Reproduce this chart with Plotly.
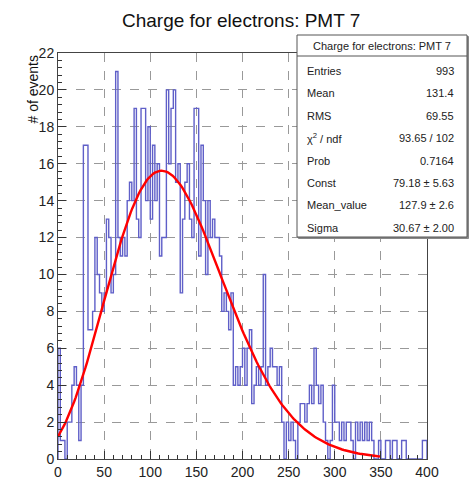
import math
import plotly.graph_objects as go

# ---------------- data ----------------
BIN_WIDTH = 2.5
X_MIN, X_MAX = 0, 400
counts = [
    6, 1, 1, 0, 2, 2, 4, 5, 4, 1,
    4, 17, 17, 7, 7, 8, 12, 10, 9, 8,
    9, 13, 12, 9, 10, 21, 12, 11, 12, 11,
    14, 15, 14, 19, 13, 12, 19, 19, 14, 18,
    13, 17, 14, 16, 11, 12, 12, 20, 16, 19,
    20, 15, 16, 9, 13, 15, 16, 13, 12, 19,
    19, 11, 17, 14, 10, 14, 12, 13, 12, 12,
    11, 8, 9, 8, 7, 9, 4, 5, 4, 5,
    6, 4, 6, 7, 3, 4, 5, 4, 5, 10,
    4, 5, 6, 5, 5, 4, 5, 2, 0, 2,
    1, 2, 1, 0, 2, 3, 3, 2, 3, 4,
    3, 6, 4, 3, 4, 2, 1, 0, 1, 4,
    2, 2, 1, 2, 1, 2, 2, 1, 0, 2,
    1, 2, 1, 2, 1, 2, 1, 0, 0, 1,
    0, 0, 1, 1, 0, 1, 1, 0, 0, 1,
    1, 0, 0, 0, 0, 0, 0, 0, 1, 1,
]

# fit parameters (from the stats box)
FIT_CONST = 79.18
FIT_MEAN = 127.9
FIT_SIGMA = 30.67
FIT_RANGE = (0, 350)

x_ticks = [0, 50, 100, 150, 200, 250, 300, 350, 400]
y_ticks = [0, 2, 4, 6, 8, 10, 12, 14, 16, 18, 20, 22]

title_text = "Charge for electrons: PMT 7"
stats_title = "Charge for electrons: PMT 7"
stats_labels = ["Entries", "Mean", "RMS", "\u03c7<sup>2</sup> / ndf", "Prob",
                "Const", "Mean_value", "Sigma"]
stats_values = ["993", "131.4", "69.55", "93.65 / 102", "0.7164",
                "79.18 \u00b1 5.63", "127.9 \u00b1 2.6", "30.67 \u00b1 2.00"]

# ---------------- geometry helpers ----------------
W, H = 469, 480
L, R, T, B = 58, 42, 53, 21
PW, PH = W - L - R, H - T - B


def px2x(px):
    return (px - L) / PW


def py2y(py):
    return (H - B - py) / PH


# ---------------- histogram outline ----------------
edges = [X_MIN + i * BIN_WIDTH for i in range(len(counts) + 1)]
hx = [edges[0]] + edges[:-1] + [edges[-1], edges[-1]]
hy = [0] + counts + [counts[-1], 0]

# ---------------- fit curve ----------------
lam = FIT_MEAN / FIT_SIGMA
fx, fy = [], []
npts = 200
for i in range(npts + 1):
    x = FIT_RANGE[0] + (FIT_RANGE[1] - FIT_RANGE[0]) * i / npts
    n = x / FIT_SIGMA
    val = FIT_CONST * math.exp(n * math.log(lam) - lam - math.lgamma(n + 1))
    fx.append(x)
    fy.append(val)

fig = go.Figure()
fig.add_trace(go.Scatter(x=hx, y=hy, mode="lines", line_shape="hv",
                         line=dict(color="rgb(95,95,200)", width=1.4),
                         hoverinfo="skip"))
fig.add_trace(go.Scatter(x=fx, y=fy, mode="lines",
                         line=dict(color="#ff0000", width=2.4),
                         hoverinfo="skip"))

FONT = "Liberation Sans, Arial, Helvetica, sans-serif"
axis_common = dict(
    showline=True, linecolor="#444", linewidth=1, mirror=True,
    ticks="inside", tickcolor="#333", ticklen=8, tickwidth=1,
    showgrid=True, gridcolor="#999999", griddash="dash", gridwidth=1,
    zeroline=False, automargin=False,
    tickfont=dict(family=FONT, size=14, color="#222"),
)

fig.update_xaxes(range=[X_MIN, X_MAX], tickvals=x_ticks,
                 ticktext=[str(v) for v in x_ticks],
                 minor=dict(dtick=10, ticks="inside", ticklen=4,
                            tickcolor="#333", showgrid=False),
                 **axis_common)
fig.update_yaxes(range=[0, 22], tickvals=y_ticks,
                 ticktext=[str(v) for v in y_ticks],
                 minor=dict(dtick=0.4, ticks="inside", ticklen=4,
                            tickcolor="#333", showgrid=False),
                 **axis_common)

annotations = []
shapes = []

# title
annotations.append(dict(text=title_text, xref="paper", yref="paper",
                        x=px2x(241), y=py2y(20), xanchor="center", yanchor="middle",
                        showarrow=False, font=dict(family=FONT, size=19, color="#111")))
# y-axis title
annotations.append(dict(text="# of events", xref="paper", yref="paper",
                        x=px2x(32), y=py2y(53), xanchor="center", yanchor="top",
                        textangle=-90, showarrow=False,
                        font=dict(family=FONT, size=14, color="#111")))

# stats box
bx0, bx1, by0, by1, bsep = 297, 467, 35, 237, 56
shapes.append(dict(type="rect", xref="paper", yref="paper",
                   x0=px2x(bx0 + 1.5), x1=px2x(bx1 + 1.5), y0=py2y(by1 + 1.5), y1=py2y(by0 + 1.5),
                   line=dict(color="#888", width=1), fillcolor="#888", layer="above"))
shapes.append(dict(type="rect", xref="paper", yref="paper",
                   x0=px2x(bx0), x1=px2x(bx1), y0=py2y(by1), y1=py2y(by0),
                   line=dict(color="#555", width=1), fillcolor="white", layer="above"))
shapes.append(dict(type="line", xref="paper", yref="paper",
                   x0=px2x(bx0), x1=px2x(bx1), y0=py2y(bsep), y1=py2y(bsep),
                   line=dict(color="#555", width=1), layer="above"))
annotations.append(dict(text=stats_title, xref="paper", yref="paper",
                        x=px2x((bx0 + bx1) / 2), y=py2y((by0 + bsep) / 2),
                        xanchor="center", yanchor="middle", showarrow=False,
                        font=dict(family=FONT, size=11, color="#222")))
row_y0, row_dy = 71, 22.4
for k, (lab, val) in enumerate(zip(stats_labels, stats_values)):
    yy = py2y(row_y0 + k * row_dy)
    annotations.append(dict(text=lab, xref="paper", yref="paper",
                            x=px2x(305), y=yy, xanchor="left", yanchor="middle",
                            showarrow=False, font=dict(family=FONT, size=11, color="#222")))
    annotations.append(dict(text=val, xref="paper", yref="paper",
                            x=px2x(456), y=yy, xanchor="right", yanchor="middle",
                            showarrow=False, font=dict(family=FONT, size=11, color="#222")))

fig.update_layout(width=W, height=H, margin=dict(l=L, r=R, t=T, b=B),
                  plot_bgcolor="white", paper_bgcolor="white", showlegend=False,
                  annotations=annotations, shapes=shapes)

fig.write_html("out.html")
